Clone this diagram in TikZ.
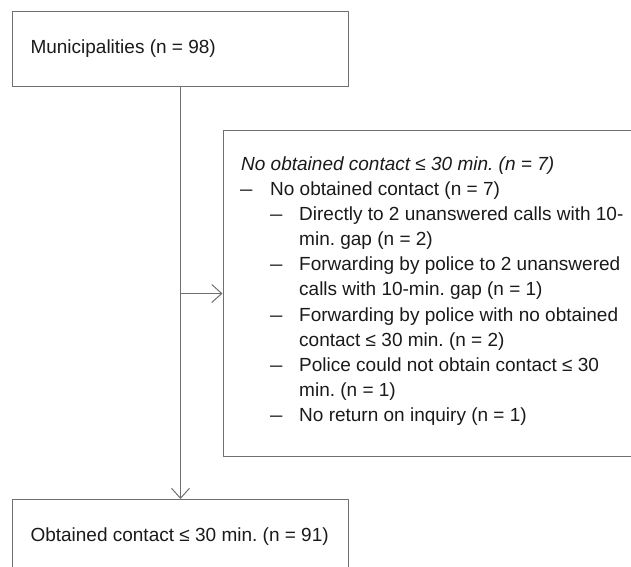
\documentclass[tikz,border=0pt]{standalone}
\usepackage{fontspec}
\usepackage{graphicx}
\setmainfont{Liberation Sans}
\usetikzlibrary{arrows.meta}
\definecolor{linegray}{HTML}{707070}
\definecolor{textgray}{HTML}{1A1A1A}
\newcommand{\mydash}{\scalebox{0.65}[1]{—}}
\frenchspacing
\tikzset{
  x=1pt, y=-1pt,
  boxnode/.style={draw=linegray, line width=1pt, rectangle, anchor=north west,
    minimum width=336pt, minimum height=75pt, align=left,
    inner xsep=18pt, inner ysep=0pt, font=\fontsize{19pt}{25pt}\selectfont, text=textgray},
  linenode/.style={anchor=base west, inner sep=0pt, font=\fontsize{19pt}{25pt}\selectfont, text=textgray},
  arr/.style={draw=linegray, line width=1pt, -{Straight Barb[length=10pt,width=18pt,line width=1pt]}}
}
\begin{document}
\begin{tikzpicture}
\useasboundingbox (0,0) rectangle (631,566);
\node[boxnode] (mun) at (12,11) {\makebox[300pt][l]{Municipalities (n = 98)}};
\node[boxnode] (obt) at (12,499) {\makebox[300pt][l]{Obtained contact ≤ 30 min. (n = 91)}};
\node[draw=linegray, line width=1pt, rectangle, anchor=north west, minimum width=430pt,
  minimum height=326pt, inner sep=0pt] (nob) at (222.5,130) {};
\node[linenode] (l0) at (241,170) {\itshape No obtained contact ≤ 30 min. (n = 7)};
\node[linenode] (l1) at (240,195) {\makebox[30pt][l]{\mydash}No obtained contact (n = 7)};
\node[linenode] (l2) at (270,220) {\makebox[29pt][l]{\mydash}Directly to 2 unanswered calls with 10-};
\node[linenode] (l3) at (299,245) {min. gap (n = 2)};
\node[linenode] (l4) at (270,270) {\makebox[29pt][l]{\mydash}Forwarding by police to 2 unanswered};
\node[linenode] (l5) at (299,295) {calls with 10-min. gap (n = 1)};
\node[linenode] (l6) at (270,321.5) {\makebox[29pt][l]{\mydash}Forwarding by police with no obtained};
\node[linenode] (l7) at (299,346.5) {contact ≤ 30 min. (n = 2)};
\node[linenode] (l8) at (270,371.5) {\makebox[29pt][l]{\mydash}Police could not obtain contact ≤ 30};
\node[linenode] (l9) at (299,396.5) {min. (n = 1)};
\node[linenode] (l10) at (270,421.5) {\makebox[29pt][l]{\mydash}No return on inquiry (n = 1)};
\draw[arr] (mun.south) -- (obt.north);
\draw[arr] (mun.south |- nob.west) -- (nob.west);
\end{tikzpicture}
\end{document}
